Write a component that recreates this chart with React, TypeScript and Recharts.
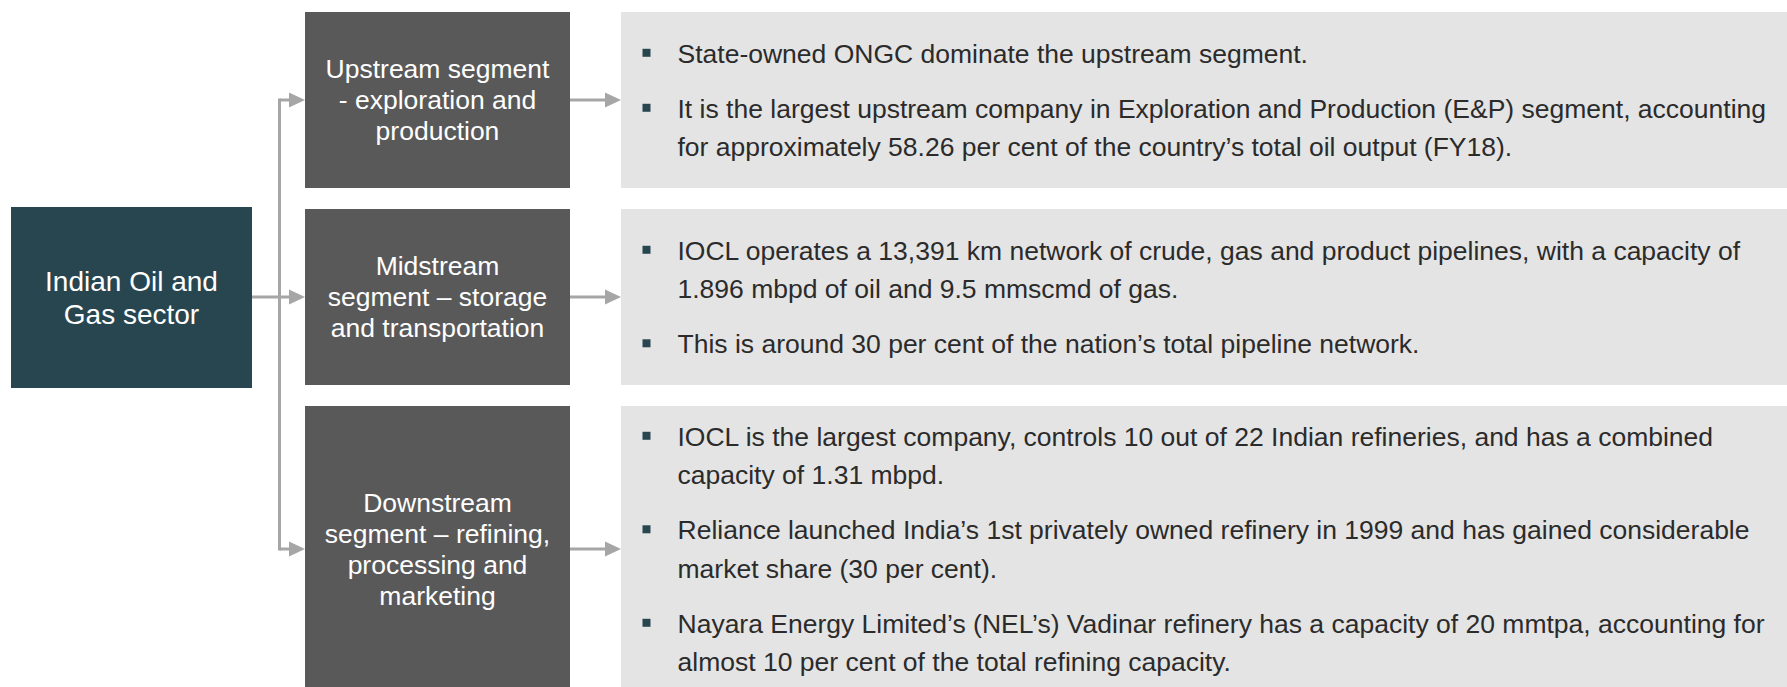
import React from "react";
import {
  ComposedChart,
  XAxis,
  YAxis,
  ReferenceArea,
  ReferenceLine,
  ReferenceDot,
} from "recharts";

// ---- content ----
const sectorTitle = ["Indian Oil and", "Gas sector"];

const segmentTitles = [
  ["Upstream segment", "- exploration and", "production"],
  ["Midstream", "segment \u2013 storage", "and transportation"],
  ["Downstream", "segment \u2013 refining,", "processing and", "marketing"],
];

const upstreamBullets = [
  ["State-owned ONGC dominate the upstream segment."],
  [
    "It is the largest upstream company in Exploration and Production (E&P) segment, accounting",
    "for approximately 58.26 per cent of the country\u2019s total oil output (FY18).",
  ],
];

const midstreamBullets = [
  [
    "IOCL operates a 13,391 km network of crude, gas and product pipelines, with a capacity of",
    "1.896 mbpd of oil and 9.5 mmscmd of gas.",
  ],
  ["This is around 30 per cent of the nation\u2019s total pipeline network."],
];

const downstreamBullets = [
  [
    "IOCL is the largest company, controls 10 out of 22 Indian refineries, and has a combined",
    "capacity of 1.31 mbpd.",
  ],
  [
    "Reliance launched India\u2019s 1st privately owned refinery in 1999 and has gained considerable",
    "market share (30 per cent).",
  ],
  [
    "Nayara Energy Limited\u2019s (NEL\u2019s) Vadinar refinery has a capacity of 20 mmtpa, accounting for",
    "almost 10 per cent of the total refining capacity.",
  ],
];

const segmentBullets = [upstreamBullets, midstreamBullets, downstreamBullets];

// ---- layout (chart units = pixels of the 1787x687 canvas) ----
const W = 1787;
const H = 687;
const ROW_SPANS = [
  [12, 188],
  [209, 385],
  [406, 692],
];
const SECTOR_BOX = { x1: 11, x2: 252, y1: 207, y2: 388 };
const SEG_X = [305, 570];
const PANEL_X = [621, W];
const TRUNK_X = 279.5;
const HEAD_LEN = 16;
const HEAD_HALF = 7.5;

const FONT = "'Liberation Sans', Arial, Helvetica, sans-serif";
const TEAL = "#284650";
const BOX_GREY = "#595959";
const PANEL_GREY = "#e4e4e4";
const ARROW_GREY = "#a6a6a6";
const TEXT_DARK = "#2b2b2b";

const rowCenter = (i: number) => (ROW_SPANS[i][0] + ROW_SPANS[i][1]) / 2;

function TitleLabel(props: any) {
  const { viewBox, lines, fontSize, lineGap } = props;
  if (!viewBox) return null;
  const cx = viewBox.x + viewBox.width / 2;
  const cy = viewBox.y + viewBox.height / 2;
  const first = cy + fontSize * 0.35 - ((lines.length - 1) * lineGap) / 2;
  return (
    <g>
      {lines.map((l: string, i: number) => (
        <text
          key={i}
          x={cx}
          y={first + i * lineGap}
          textAnchor="middle"
          fill="#ffffff"
          fontFamily={FONT}
          fontSize={fontSize}
        >
          {l}
        </text>
      ))}
    </g>
  );
}

function BulletLabel(props: any) {
  const { viewBox, bullets } = props;
  if (!viewBox) return null;
  const lineGap = 38.5;
  const bulletGap = 55;
  const fontSize = 26.5;
  // baseline offsets for every line
  const rows: { text: string; dy: number; first: boolean }[] = [];
  let dy = 0;
  bullets.forEach((b: string[], bi: number) => {
    b.forEach((t, li) => {
      if (bi > 0 || li > 0) dy += li === 0 ? bulletGap : lineGap;
      rows.push({ text: t, dy, first: li === 0 });
    });
  });
  const cy = viewBox.y + viewBox.height / 2;
  const start = cy + fontSize * 0.36 - dy / 2;
  const sqX = viewBox.x + 25.5;
  const txX = viewBox.x + 56.5;
  return (
    <g>
      {rows.map((r, i) => (
        <g key={i}>
          {r.first && (
            <rect x={sqX - 4} y={start + r.dy - 14} width={8} height={8} fill={TEAL} />
          )}
          <text
            x={txX}
            y={start + r.dy}
            fill={TEXT_DARK}
            fontFamily={FONT}
            fontSize={fontSize}
          >
            {r.text}
          </text>
        </g>
      ))}
    </g>
  );
}

const arrowHead = (p: any) => (
  <polygon
    points={`${p.cx},${p.cy} ${p.cx - HEAD_LEN},${p.cy - HEAD_HALF} ${p.cx - HEAD_LEN},${p.cy + HEAD_HALF}`}
    fill={ARROW_GREY}
  />
);

export default function App() {
  const lineProps = {
    stroke: ARROW_GREY,
    strokeWidth: 3,
    ifOverflow: "visible" as const,
  };

  return (
    <div
      style={{
        position: "absolute",
        left: 0,
        top: 0,
        width: W,
        height: H,
        overflow: "hidden",
        background: "#ffffff",
      }}
    >
      <ComposedChart width={W} height={H} margin={{ top: 0, right: 0, bottom: 0, left: 0 }}>
        <XAxis type="number" dataKey="x" domain={[0, W]} hide allowDataOverflow />
        <YAxis type="number" dataKey="y" domain={[0, H]} reversed hide allowDataOverflow />

        {/* sector box */}
        <ReferenceArea
          x1={SECTOR_BOX.x1}
          x2={SECTOR_BOX.x2}
          y1={SECTOR_BOX.y1}
          y2={SECTOR_BOX.y2}
          fill={TEAL}
          fillOpacity={1}
          stroke="none"
          label={<TitleLabel lines={sectorTitle} fontSize={28} lineGap={32.7} />}
        />

        {/* segment boxes and grey panels */}
        {segmentTitles.map((title, i) => (
          <ReferenceArea
            key={`seg-${i}`}
            x1={SEG_X[0]}
            x2={SEG_X[1]}
            y1={ROW_SPANS[i][0]}
            y2={ROW_SPANS[i][1]}
            fill={BOX_GREY}
            fillOpacity={1}
            stroke="none"
            ifOverflow="hidden"
            label={<TitleLabel lines={title} fontSize={26.5} lineGap={31} />}
          />
        ))}
        {segmentBullets.map((bullets, i) => (
          <ReferenceArea
            key={`panel-${i}`}
            x1={PANEL_X[0]}
            x2={PANEL_X[1]}
            y1={ROW_SPANS[i][0]}
            y2={ROW_SPANS[i][1]}
            fill={PANEL_GREY}
            fillOpacity={1}
            stroke="none"
            ifOverflow="hidden"
            label={<BulletLabel bullets={bullets} />}
          />
        ))}

        {/* connectors */}
        <ReferenceLine
          {...lineProps}
          segment={[
            { x: SECTOR_BOX.x2, y: rowCenter(1) },
            { x: SEG_X[0] - HEAD_LEN + 1, y: rowCenter(1) },
          ]}
        />
        <ReferenceLine
          {...lineProps}
          strokeLinecap="square"
          segment={[
            { x: TRUNK_X, y: rowCenter(0) },
            { x: TRUNK_X, y: rowCenter(2) },
          ]}
        />
        {[0, 2].map((i) => (
          <ReferenceLine
            key={`branch-${i}`}
            {...lineProps}
            segment={[
              { x: TRUNK_X, y: rowCenter(i) },
              { x: SEG_X[0] - HEAD_LEN + 1, y: rowCenter(i) },
            ]}
          />
        ))}
        {segmentTitles.map((_, i) => (
          <ReferenceLine
            key={`out-${i}`}
            {...lineProps}
            segment={[
              { x: SEG_X[1], y: rowCenter(i) },
              { x: PANEL_X[0] - HEAD_LEN + 1, y: rowCenter(i) },
            ]}
          />
        ))}
        {segmentTitles.map((_, i) => (
          <ReferenceDot
            key={`head-in-${i}`}
            x={SEG_X[0]}
            y={rowCenter(i)}
            ifOverflow="visible"
            shape={arrowHead}
          />
        ))}
        {segmentTitles.map((_, i) => (
          <ReferenceDot
            key={`head-out-${i}`}
            x={PANEL_X[0]}
            y={rowCenter(i)}
            ifOverflow="visible"
            shape={arrowHead}
          />
        ))}
      </ComposedChart>
    </div>
  );
}
